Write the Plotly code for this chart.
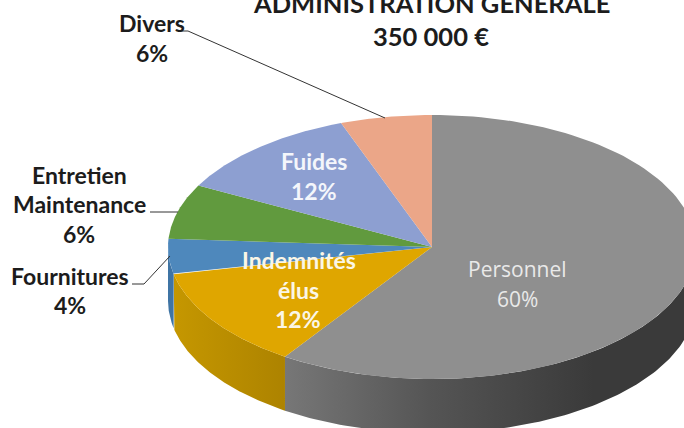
import math
import plotly.graph_objects as go

# Data (slice extents as drawn; printed labels are rounded)
categories = ["Personnel", "Indemnités élus", "Fournitures", "Entretien Maintenance", "Fuides", "Divers"]
shares = [59.4, 12.3, 4.3, 6.7, 11.7, 5.6]
top_colors = ["#8f8f8f", "#dfa600", "#4e88bc", "#619a3e", "#8d9fd1", "#eba688"]
wall_scales = [
    [[0, "#777777"], [0.35, "#555555"], [0.75, "#3a3a3a"], [1, "#3a3a3a"]],
    [[0, "#c59700"], [1, "#ad8300"]],
    [[0, "#3f74a4"], [1, "#3f74a4"]],
]
W, H = 684, 428
CX, CY, RX, RY, DEPTH = 432, 247, 264, 132, 54
FONT = "Lato"
DARK = "#1c1c1c"


def pt(deg, dy=0):
    a = math.radians(deg)
    return CX + RX * math.sin(a), CY - RY * math.cos(a) + dy


def arc(a0, a1, dy=0, n=120):
    return [pt(a0 + (a1 - a0) * i / n, dy) for i in range(n + 1)]


fig = go.Figure()
edges = [0]
for s in shares:
    edges.append(edges[-1] + s * 3.6)

# Side walls (only the part facing the viewer: up to 270 degrees)
for i in range(3):
    a0, a1 = max(edges[i], 90), min(edges[i + 1], 270)
    top = arc(a0, a1)
    bottom = arc(a1, a0, DEPTH)
    poly = top + bottom + [top[0]]
    xs = [p[0] for p in poly]
    fig.add_trace(go.Scatter(
        x=xs, y=[p[1] for p in poly], mode="lines", line=dict(width=0),
        fill="toself",
        fillgradient=dict(type="horizontal", colorscale=wall_scales[i], start=min(xs), stop=max(xs)),
        hoverinfo="skip", showlegend=False))

# Top faces
for i, name in enumerate(categories):
    poly = [(CX, CY)] + arc(edges[i], edges[i + 1]) + [(CX, CY)]
    fig.add_trace(go.Scatter(
        x=[p[0] for p in poly], y=[p[1] for p in poly], mode="lines", line=dict(width=0),
        fill="toself", fillcolor=top_colors[i], name=name, hoverinfo="name", showlegend=False))

texts = [
    ("ADMINISTRATION GENERALE", 431, 3, 25.5, DARK, True, FONT),
    ("350 000 €", 431, 36, 25.5, DARK, True, FONT),
    ("Divers", 152, 23, 23, DARK, True, FONT),
    ("6%", 152, 53, 23, DARK, True, FONT),
    ("Entretien", 79, 175, 23, DARK, True, FONT),
    ("Maintenance", 79, 204, 23, DARK, True, FONT),
    ("6%", 79, 234, 23, DARK, True, FONT),
    ("Fournitures", 70, 276, 23, DARK, True, FONT),
    ("4%", 70, 305, 23, DARK, True, FONT),
    ("Fuides", 314, 161, 23, "#f4f6fb", True, FONT),
    ("12%", 314, 191, 23, "#f4f6fb", True, FONT),
    ("Indemnités", 299, 260, 23, "#fbf6e6", True, FONT),
    ("élus", 298, 290, 23, "#fbf6e6", True, FONT),
    ("12%", 298, 319, 23, "#fbf6e6", True, FONT),
    ("Personnel", 517, 269, 21, "#e9e9e9", False, "Open Sans"),
    ("60%", 517, 299, 21, "#e9e9e9", False, "Open Sans"),
]
annotations = [
    dict(text=f"<b>{t}</b>" if b else t, x=x, y=y, xref="x", yref="y", showarrow=False,
         xanchor="center", yanchor="middle", font=dict(family=f, size=s, color=c))
    for t, x, y, s, c, b, f in texts
]

leaders = [
    "M 178 31 L 188 31 L 385 118",
    "M 150 212 L 178 212",
    "M 132 284 L 144 284 L 170 256",
]
shapes = [dict(type="path", path=p, xref="x", yref="y", line=dict(color="#333333", width=1)) for p in leaders]

fig.update_layout(
    width=W, height=H, margin=dict(l=0, r=0, t=0, b=0),
    paper_bgcolor="white", plot_bgcolor="white",
    xaxis=dict(range=[0, W], visible=False, fixedrange=True),
    yaxis=dict(range=[H, 0], visible=False, fixedrange=True),
    annotations=annotations, shapes=shapes, showlegend=False,
)
fig.write_html("out.html", config=dict(displayModeBar=False),
               post_script="document.body.style.margin='0';document.documentElement.style.overflow='hidden';")
